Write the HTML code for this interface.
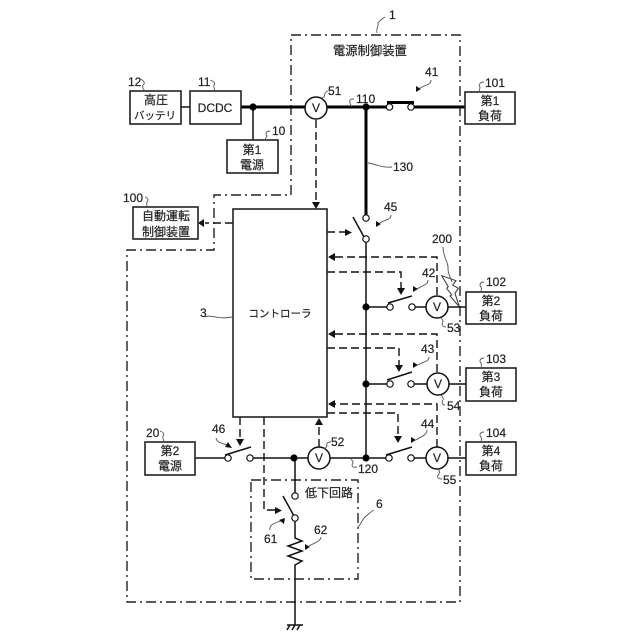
<!DOCTYPE html>
<html><head><meta charset="utf-8"><style>
html,body{margin:0;padding:0;background:#fff}
svg{display:block}
text{font-family:"Liberation Sans","Noto Sans CJK JP",sans-serif;fill:#222;font-size:12px;stroke:#222;stroke-width:.2}
.c{text-anchor:middle}
.n{font-size:12px}
.b{fill:#fff;stroke:#222;stroke-width:1.6}
.l{stroke:#111;stroke-width:1.5;fill:none}
.t{stroke:#000;stroke-width:3;fill:none}
.d{stroke:#111;stroke-width:1.4;fill:none;stroke-dasharray:8 4}
.o{stroke:#222;stroke-width:1.4;fill:none;stroke-dasharray:10 4 2 4}
.s{stroke:#555;stroke-width:.9;fill:none}
.k{fill:#fff;stroke:#111;stroke-width:1.2}
.v{fill:#fff;stroke:#111;stroke-width:1.5}
.j{fill:#000}
.a{fill:#111}
</style></head><body>
<svg width="640" height="640" viewBox="0 0 640 640" xmlns="http://www.w3.org/2000/svg">
<!-- outer borders -->
<path class="o" d="M291 195V35H460V602H127V250H214V195H291"/>
<path class="o" d="M251 480H358V579H251Z"/>
<!-- thick main lines -->
<path class="t" d="M240 107H305M327 107H387M414 107H465"/>
<path class="t" d="M366 107V215"/>
<path class="t" d="M387 102.500H414" stroke-width="2.500"/>
<path class="l" d="M181 107H190" stroke-width="2.500"/>
<path class="l" d="M253 107V140"/>
<!-- thin lines -->
<path class="l" d="M366 242V458"/>
<path class="l" d="M366 307H387M415 307H426M448 307H466"/>
<path class="l" d="M366 384H387M414 384H427M449 384H466"/>
<path class="l" d="M195 458H225M253 458H308M330 458H386M414 458H426M448 458H466"/>
<path class="l" d="M295 458V493M295 521V538L302 541 288 546 302 551 288 556 302 561 295 565V625"/>
<path class="l" d="M287 625H303M290 625L287 630M295 625L292 630M300 625L297 630"/>
<!-- blades -->
<path class="l" d="M353 217L364 237M388 303L412 296M387 380L412 372M386 455L412 447M225 455L251 447M283 496L294 516"/>
<!-- dashed signals -->
<path class="d" d="M316 120V203"/><path class="a" d="M312 202H320L316 209Z"/>
<path class="d" d="M233 223H205"/><path class="a" d="M204 219V227L198 223Z"/>
<path class="d" d="M327 232H346"/><path class="a" d="M345 229V236L352 232.500Z"/>
<path class="d" d="M437 295V257H334"/><path class="a" d="M335 253V261L328 257Z"/>
<path class="d" d="M327 272H401V289"/><path class="a" d="M397 288H405L401 295Z"/>
<path class="d" d="M437 372V334H334"/><path class="a" d="M335 330V338L328 334Z"/>
<path class="d" d="M327 348H399V365"/><path class="a" d="M395 365H403L399 372Z"/>
<path class="d" d="M437 447V404H334"/><path class="a" d="M335 400V408L328 404Z"/>
<path class="d" d="M327 413H398V437"/><path class="a" d="M394 436H402L398 443Z"/>
<path class="d" d="M240 417V439"/><path class="a" d="M236 439H244L240 446Z"/>
<path class="d" d="M319 447V424"/><path class="a" d="M315 425H323L319 418Z"/>
<path class="d" d="M264 417V510H268"/><path class="l" d="M268 510H276"/><path class="a" d="M275 507V514L282 510.500Z"/>
<!-- boxes -->
<rect class="b" x="130" y="91" width="51" height="33"/>
<rect class="b" x="190" y="91" width="51" height="33"/>
<rect class="b" x="227" y="140" width="51" height="33"/>
<rect class="b" x="133" y="207" width="65" height="32"/>
<rect class="b" x="233" y="209" width="94" height="208"/>
<rect class="b" x="465" y="92" width="50" height="32"/>
<rect class="b" x="466" y="292" width="50" height="32"/>
<rect class="b" x="466" y="368" width="50" height="33"/>
<rect class="b" x="466" y="442" width="50" height="33"/>
<rect class="b" x="145" y="442" width="50" height="33"/>
<!-- terminals -->
<g class="k">
<circle cx="389.500" cy="107" r="3.200"/><circle cx="411" cy="107" r="3.200"/>
<circle cx="366" cy="218" r="3.200"/><circle cx="366" cy="239" r="3.200"/>
<circle cx="390" cy="307" r="3.200"/><circle cx="412" cy="307" r="3.200"/>
<circle cx="390" cy="384" r="3.200"/><circle cx="411" cy="384" r="3.200"/>
<circle cx="389" cy="458" r="3.200"/><circle cx="411" cy="458" r="3.200"/>
<circle cx="228" cy="458" r="3.200"/><circle cx="250" cy="458" r="3.200"/>
<circle cx="295" cy="496" r="3.200"/><circle cx="295" cy="518" r="3.200"/>
</g>
<!-- junctions -->
<g class="j">
<circle cx="253" cy="107" r="3.600"/><circle cx="366" cy="107" r="3.600"/>
<circle cx="366" cy="307" r="3.600"/><circle cx="366" cy="384" r="3.600"/>
<circle cx="366" cy="458" r="3.600"/><circle cx="294" cy="458" r="3.600"/>
</g>
<!-- voltmeters -->
<circle class="v" cx="316" cy="108" r="11"/><text class="c" x="316" y="112">V</text>
<circle class="v" cx="437" cy="307" r="11"/><text class="c" x="437" y="311">V</text>
<circle class="v" cx="438" cy="384" r="11"/><text class="c" x="438" y="388">V</text>
<circle class="v" cx="437" cy="458" r="11"/><text class="c" x="437" y="462">V</text>
<circle class="v" cx="319" cy="458" r="11"/><text class="c" x="319" y="462">V</text>
<!-- lightning 200 -->
<path d="M441.700 275.700L456 280.700 452.700 285 458.300 288.300 455 293.300 459.300 306.700 450 296 451.700 295 446.700 288.300 448.300 286.700Z" fill="#fff" stroke="#333" stroke-width="1"/>
<path class="s" d="M443 247C443 258 449 262 448 270 449 276 451 279 452 282"/>
<!-- box labels -->
<text class="c" x="156" y="104">高圧</text><text class="c" x="155" y="119" style="font-size:10.500px">バッテリ</text>
<text class="c" x="215" y="112">DCDC</text>
<text class="c" x="252" y="154">第1</text><text class="c" x="252" y="169">電源</text>
<text class="c" x="166" y="220">自動運転</text><text class="c" x="166" y="236">制御装置</text>
<text class="c" x="280" y="317" style="font-size:10.500px">コントローラ</text>
<text class="c" x="490" y="105">第1</text><text class="c" x="490" y="120">負荷</text>
<text class="c" x="491" y="305">第2</text><text class="c" x="491" y="320">負荷</text>
<text class="c" x="491" y="381">第3</text><text class="c" x="491" y="396">負荷</text>
<text class="c" x="491" y="455">第4</text><text class="c" x="491" y="470">負荷</text>
<text class="c" x="170" y="455">第2</text><text class="c" x="170" y="470">電源</text>
<text x="333" y="55" style="font-size:12.300px">電源制御装置</text>
<text x="305" y="497">低下回路</text>
<!-- reference numbers -->
<text class="n" x="389" y="19">1</text>
<text class="n" x="128" y="86">12</text>
<text class="n" x="198" y="86">11</text>
<text class="n" x="272" y="135">10</text>
<text class="n" x="123" y="202">100</text>
<text class="n" x="328" y="95">51</text>
<text class="n" x="356" y="103">110</text>
<text class="n" x="425" y="76">41</text>
<text class="n" x="485" y="87">101</text>
<text class="n" x="393" y="171">130</text>
<text class="n" x="384" y="211">45</text>
<text class="n" x="432" y="243">200</text>
<text class="n" x="422" y="277">42</text>
<text class="n" x="486" y="286">102</text>
<text class="n" x="447" y="332">53</text>
<text class="n" x="421" y="353">43</text>
<text class="n" x="486" y="363">103</text>
<text class="n" x="447" y="410">54</text>
<text class="n" x="421" y="428">44</text>
<text class="n" x="486" y="437">104</text>
<text class="n" x="443" y="484">55</text>
<text class="n" x="331" y="446">52</text>
<text class="n" x="358" y="473">120</text>
<text class="n" x="376" y="508">6</text>
<text class="n" x="146" y="437">20</text>
<text class="n" x="212" y="433">46</text>
<text class="n" x="264" y="543">61</text>
<text class="n" x="314" y="534">62</text>
<text class="n" x="200" y="317">3</text>
<!-- leader squiggles -->
<g class="s">
<path d="M377 33C376 27 379 26 378 23 380 20 382 19 385 17"/>
<path d="M140 79C143 80 146 83 143 85 142 87 143 89 145 91"/>
<path d="M210 80C213 81 216 83 214 85 213 87 215 89 215 91"/>
<path d="M270 131C266 131 265 134 267 136 266 138 265 139 265 140"/>
<path d="M145 197C148 198 149 200 147 202 146 204 147 206 148 207"/>
<path d="M328 91C324 92 325 95 324 97 322 98 321 98 321 98"/>
<path d="M354 99C350 99 349 100 350 103 351 105 351 106 351 107"/>
<path d="M484 82C480 82 478 85 480 87 480 89 479 91 479 92"/>
<path d="M368 163C376 164 382 168 392 167"/>
<path d="M484 282C480 282 479 285 481 287 482 289 481 291 481 292"/>
<path d="M484 358C480 358 479 361 481 363 482 365 481 367 481 368"/>
<path d="M484 432C480 432 479 435 481 437 482 439 481 441 481 442"/>
<path d="M446 327C443 327 441 325 443 322 443 320 442 319 441 318"/>
<path d="M445 405C443 405 441 403 443 400 444 398 442 396 441 395"/>
<path d="M442 479C438 479 436 477 439 474 440 472 439 470 438 469"/>
<path d="M331 442C327 442 326 444 327 446 326 448 325 449 324 449"/>
<path d="M357 467C352 468 351 466 353 463 353 461 352 460 351 459"/>
<path d="M160 431C163 432 165 434 163 436 162 438 164 440 164 442"/>
<path d="M374 510C371 511 369 514 365 517 362 520 361 524 358 527"/>
<path d="M216 438C217 443 222 443 227 445"/>
<path d="M270 530C269 525 274 523 281 521"/>
<path d="M321 537C320 542 316 542 309 546"/>
<path d="M431 80C431 85 425 85 420 88"/>
<path d="M391 215C391 220 386 219 380 223"/>
<path d="M428 280C428 285 423 285 417 289"/>
<path d="M429 357C429 362 424 361 418 365"/>
<path d="M427 430C427 435 422 436 416 440"/>
<path d="M205 317C212 314 217 320 232 317"/>
</g>
<!-- leader arrowheads -->
<g class="a">
<path d="M416 92L416 86 421 89Z"/>
<path d="M376 227L376 221 381 224Z"/>
<path d="M413 292L413 286 418 289Z"/>
<path d="M413 368L413 362 418 365Z"/>
<path d="M411 443L411 437 416 440Z"/>
<path d="M232 448L225 447 228 442Z"/>
<path d="M285 518L284 524 279 520Z"/>
<path d="M305 550L305 544 310 547Z"/>
</g>
</svg>
</body></html>
